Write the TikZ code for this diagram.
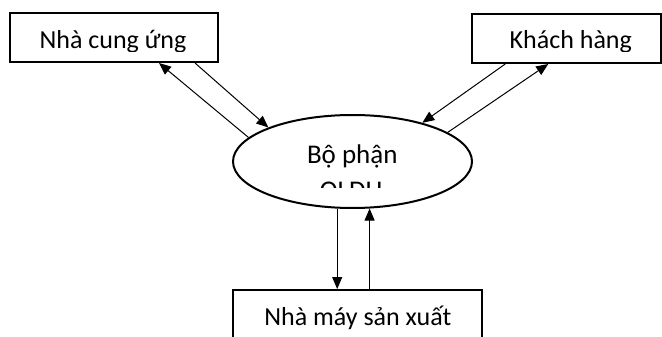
\documentclass[tikz,border=0pt]{standalone}
\usepackage{fontspec}
\setmainfont{Carlito}
\usetikzlibrary{shapes.geometric,arrows.meta,calc}
\begin{document}
\begin{tikzpicture}[x=1pt,y=-1pt,
  box/.style={draw,line width=2pt,rectangle,inner sep=0pt},
  oval/.style={draw,line width=2pt,ellipse,inner sep=0pt,minimum width=239pt,minimum height=93pt},
  lbl/.style={inner sep=0pt,anchor=base,font=\fontsize{26}{31}\selectfont},
  olbl/.style={lbl,font=\fontsize{27}{32}\selectfont},
  arr/.style={line width=1pt,-{Triangle[length=12pt,width=10pt]}}]
\clip (0,0) rectangle (662,337);
\fill[white] (0,0) rectangle (662,337);
% shapes
\node[box,minimum width=208pt,minimum height=49pt] (sup) at (114,37.5) {};
\node[box,minimum width=188.5pt,minimum height=49pt] (cust) at (566.25,38.5) {};
\node[oval] (qldh) at (352.5,161.5) {};
\node[box,minimum width=249pt,minimum height=80pt] (fab) at (357.5,330) {};
% texts (clipped as in the reference)
\begin{scope}
  \clip (10,13) rectangle (218,52);
  \node[lbl] (supt) at (113,48.5) {Nhà cung ứng};
\end{scope}
\begin{scope}
  \clip (472,14) rectangle (660,52);
  \node[lbl] (custt) at (570.8,49) {Khách hàng};
\end{scope}
\begin{scope}
  \clip (233,115) rectangle (472,187.5);
  \node[olbl] (qt1) at (352.3,163.3) {Bộ phận};
  \node[olbl] (qt2) at (351,199) {QLDH};
\end{scope}
\node[lbl] (fabt) at (357.8,325) {Nhà máy sản xuất};
% connectors
\draw[arr] ($(sup.south)+(81,0)$) -- (qldh.158);
\draw[arr] (qldh.167) -- ($(sup.south)+(45,0)$);
\draw[arr] ($(cust.south)+(-61,0)$) -- (qldh.29);
\draw[arr] (qldh.17) -- ($(cust.south)+(-18,0)$);
\draw[arr] (qldh.252) -- (qldh.252 |- fab.north);
\draw[arr] (qldh.290 |- fab.north) -- (qldh.290);
\end{tikzpicture}
\end{document}
